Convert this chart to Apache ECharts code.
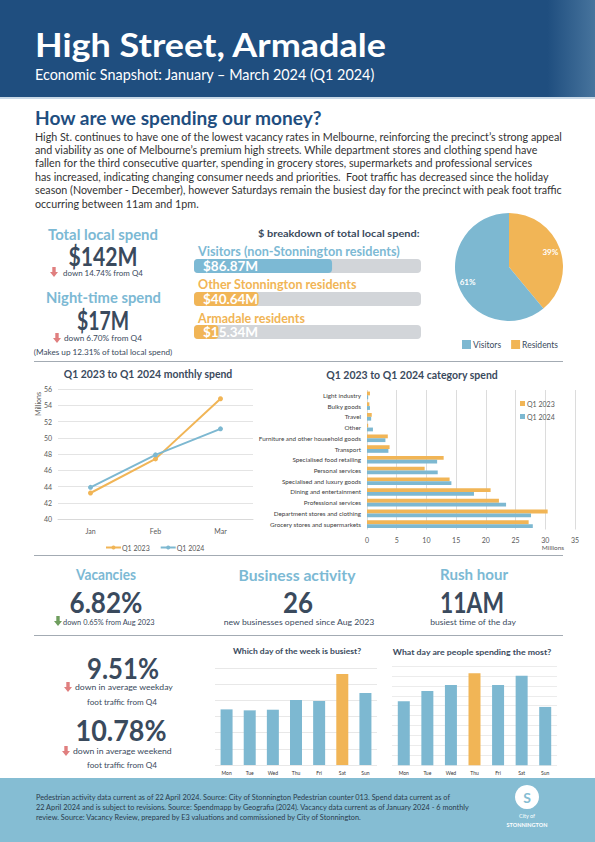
<!DOCTYPE html>
<html><head><meta charset="utf-8">
<script src="https://cdn.jsdelivr.net/npm/echarts@6/dist/echarts.min.js"></script>
<style>html,body{margin:0;padding:0;background:#fff}#c{width:595px;height:842px}</style>
</head><body><div id="c"></div>
<script>
// ---------- DATA ----------
const months = ['Jan', 'Feb', 'Mar'];
const spendQ1_2023 = [43.2, 47.4, 54.8];
const spendQ1_2024 = [43.9, 47.9, 51.1];
const monthAxis = { min: 40, max: 56, interval: 2 };

const categories = ['Light industry', 'Bulky goods', 'Travel', 'Other', 'Furniture and other household goods', 'Transport', 'Specialised food retailing', 'Personal services', 'Specialised and luxury goods', 'Dining and entertainment', 'Professional services', 'Department stores and clothing', 'Grocery stores and supermarkets'];
const catQ1_2023 = [0.5, 0.4, 0.8, 0.2, 3.5, 3.8, 12.9, 9.7, 13.9, 20.8, 22.2, 30.4, 27.2];
const catQ1_2024 = [0.2, 0.5, 0.7, 1.0, 3.1, 3.6, 11.8, 11.9, 14.2, 18.0, 23.4, 27.6, 27.9];
const catAxis = { min: 0, max: 35, interval: 5 };

const breakdownNames = ['Visitors (non-Stonnington residents)', 'Other Stonnington residents', 'Armadale residents'];
const breakdownValues = [86.87, 40.64, 15.34];

const pieNames = ['Residents', 'Visitors'];
const pieValues = [39, 61];

const days = ['Mon', 'Tue', 'Wed', 'Thu', 'Fri', 'Sat', 'Sun'];
const footTraffic = [3.44, 3.38, 3.42, 4.02, 3.96, 5.63, 4.45];
const daySpend = [6.44, 7.49, 8.09, 9.27, 8.09, 9.03, 5.88];

// ---------- STYLE ----------
const FONT = 'Lato, "Open Sans", sans-serif';
const DARK = '#3a4a5d';
const LBLUE = '#7cb9d4';
const ORANGE = '#f1b556';
const BLUE = '#7db8d1';
const NAVY = '#1f4e7f';
const RED = '#e07f7f';
const GREEN = '#6f9e5e';

const mctx = document.createElement('canvas').getContext('2d');
function T(text, x, y, size, o) {
  o = o || {};
  const weight = o.weight || 'normal';
  const align = o.align || 'left';
  let sx = 1;
  if (o.w) { mctx.font = weight + ' ' + size + 'px Lato'; sx = o.w / mctx.measureText(text).width; }
  if (o.sx) sx = o.sx;
  return { type: 'text', x: x, y: y, scaleX: sx, rotation: o.rot || 0, z: 10, silent: true,
    style: { text: text, fill: o.color || DARK, fontSize: size, fontWeight: weight, fontFamily: FONT,
      align: align, textAlign: align, verticalAlign: 'middle', textVerticalAlign: 'middle' } };
}
function arrow(cx, cy, color) {
  return { type: 'polygon', z: 10, silent: true, shape: { points: [[cx - 1.7, cy - 5], [cx + 1.7, cy - 5], [cx + 1.7, cy], [cx + 4, cy], [cx, cy + 5], [cx - 4, cy], [cx - 1.7, cy]] }, style: { fill: color } };
}
function rule(y) {
  return { type: 'line', z: 5, silent: true, shape: { x1: 34, y1: y, x2: 563, y2: y }, style: { stroke: '#a3abb3', lineWidth: 1 } };
}

const para = [
  'High St. continues to have one of the lowest vacancy rates in Melbourne, reinforcing the precinct\u2019s strong appeal',
  'and viability as one of Melbourne\u2019s premium high streets. While department stores and clothing spend have',
  'fallen for the third consecutive quarter, spending in grocery stores, supermarkets and professional services',
  'has increased, indicating changing consumer needs and priorities.  Foot traffic has decreased since the holiday',
  'season (November - December), however Saturdays remain the busiest day for the precinct with peak foot traffic',
  'occurring between 11am and 1pm.'
];
mctx.font = 'normal 11.5px Lato';
const paraScale = 528 / mctx.measureText(para[0]).width;

const footer = [
  'Pedestrian activity data current as of 22 April 2024. Source: City of Stonnington Pedestrian counter 013. Spend data current as of',
  '22 April 2024 and is subject to revisions. Source: Spendmapp by Geografia (2024). Vacancy data current as of January 2024 - 6 monthly',
  'review. Source: Vacancy Review, prepared by E3 valuations and commissioned by City of Stonnington.'
];
mctx.font = 'normal 7.5px Lato';
const footScale = 435 / mctx.measureText(footer[1]).width;

const graphics = [
  { type: 'rect', z: 1, silent: true, shape: { x: 0, y: 0, width: 595, height: 97 },
    style: { fill: { type: 'linear', x: 0, y: 0, x2: 1, y2: 0, colorStops: [{ offset: 0, color: NAVY }, { offset: 0.92, color: NAVY }, { offset: 1, color: '#47749d' }] } } },
  { type: 'rect', z: 1, silent: true, shape: { x: 0, y: 97, width: 595, height: 2 }, style: { fill: '#c9d9e7' } },
  T('High Street, Armadale', 35, 44, 32, { weight: 'bold', color: '#fff', w: 352 }),
  T('Economic Snapshot: January \u2013 March 2024 (Q1 2024)', 35, 74, 14.5, { color: '#fff', w: 340 }),
  T('How are we spending our money?', 35, 117, 19.5, { weight: 'bold', color: NAVY, w: 288 }),
  // left KPIs
  T('Total local spend', 103, 234, 16, { weight: 'bold', color: LBLUE, align: 'center', w: 110 }),
  T('$142M', 103, 256, 26, { weight: 'bold', align: 'center', w: 69 }),
  arrow(54, 272, RED),
  T('down 14.74% from Q4', 63, 273, 8.5, { w: 80 }),
  T('Night-time spend', 103.5, 297, 16, { weight: 'bold', color: LBLUE, align: 'center', w: 115 }),
  T('$17M', 103, 320, 26, { weight: 'bold', align: 'center', w: 52 }),
  arrow(57, 338, RED),
  T('down 6.70% from Q4', 64, 338, 8.5, { w: 78 }),
  T('(Makes up 12.31% of total local spend)', 103, 352, 8, { align: 'center', w: 139 }),
  // breakdown
  T('$ breakdown of total local spend:', 258, 233, 9.5, { weight: 'bold', w: 162 }),
  T(breakdownNames[0], 198, 252, 12.5, { weight: 'bold', color: LBLUE, w: 202 }),
  T(breakdownNames[1], 198, 285, 12.5, { weight: 'bold', color: ORANGE, w: 159 }),
  T(breakdownNames[2], 198, 318, 12.5, { weight: 'bold', color: ORANGE, w: 107 }),
  rule(361.5),
  // chart titles
  T('Q1 2023 to Q1 2024 monthly spend', 148, 373, 11, { weight: 'bold', align: 'center', w: 169 }),
  T('Millions', 38, 404, 7, { color: '#595959', align: 'center', rot: Math.PI / 2 }),
  T('Q1 2023 to Q1 2024 category spend', 412, 374, 11, { weight: 'bold', align: 'center', w: 172 }),
  T('Millions', 553, 547, 6.5, { color: '#595959', align: 'center' }),
  rule(555.5),
  // middle KPIs
  T('Vacancies', 106, 574, 16, { weight: 'bold', color: LBLUE, align: 'center', w: 60 }),
  T('6.82%', 106, 602, 28, { weight: 'bold', align: 'center', w: 73 }),
  arrow(58, 621, GREEN),
  T('down 0.65% from Aug 2023', 63, 622, 8.5, { w: 92 }),
  T('Business activity', 297, 574, 16, { weight: 'bold', color: LBLUE, align: 'center', w: 117 }),
  T('26', 298, 602, 28, { weight: 'bold', align: 'center', w: 30 }),
  T('new businesses opened since Aug 2023', 299, 622, 8.5, { align: 'center', w: 151 }),
  T('Rush hour', 474, 574, 16, { weight: 'bold', color: LBLUE, align: 'center', w: 68 }),
  T('11AM', 472, 602, 28, { weight: 'bold', align: 'center', w: 64 }),
  T('busiest time of the day', 473, 622, 8.5, { align: 'center', w: 86 }),
  rule(635.5),
  // bottom-left KPIs
  T('9.51%', 123, 668, 28, { weight: 'bold', align: 'center', w: 72 }),
  arrow(68, 687, RED),
  T('down in average weekday', 75, 687, 8.5, { w: 98 }),
  T('foot traffic from Q4', 122, 702, 8.5, { align: 'center', w: 70 }),
  T('10.78%', 121, 730, 28, { weight: 'bold', align: 'center', w: 91 }),
  arrow(66, 751, RED),
  T('down in average weekend', 73, 751, 8.5, { w: 99 }),
  T('foot traffic from Q4', 122, 765, 8.5, { align: 'center', w: 70 }),
  T('Which day of the week is busiest?', 297, 651, 8, { weight: 'bold', align: 'center', w: 129 }),
  T('What day are people spending the most?', 472, 652, 8, { weight: 'bold', align: 'center', w: 159 }),
  // footer
  { type: 'rect', z: 1, silent: true, shape: { x: 0, y: 778, width: 595, height: 64 }, style: { fill: '#85bdd3' } },
  { type: 'circle', z: 10, silent: true, shape: { cx: 527, cy: 797, r: 12 }, style: { fill: '#fff' } },
  T('S', 527, 797, 14, { weight: 'bold', color: '#85bdd3', align: 'center' }),
  T('City of', 527, 816, 5.5, { color: '#fff', align: 'center' }),
  T('STONNINGTON', 527, 825, 5.5, { weight: 'bold', color: '#fff', align: 'center' })
];
para.forEach((l, i) => graphics.push(T(l, 35, 136 + i * 13.4, 11.5, { color: '#333', sx: paraScale })));
footer.forEach((l, i) => graphics.push(T(l, 36, 797 + i * 10.2, 7.5, { color: '#2b3b4b', sx: footScale })));

function highlightMax(arr) {
  const m = Math.max.apply(null, arr);
  return arr.map(v => ({ value: v, itemStyle: { color: v === m ? ORANGE : BLUE } }));
}
const axisTxt = { fontFamily: FONT, color: '#595959' };

const option = {
  animation: false,
  textStyle: { fontFamily: FONT },
  graphic: { elements: graphics },
  legend: [
    { data: ['Visitors', 'Residents'], left: 457, top: 335, icon: 'rect', itemWidth: 9, itemHeight: 9, itemGap: 10,
      textStyle: { fontSize: 8.5, color: DARK, fontFamily: FONT, padding: [0, 0, 0, -3] } },
    { data: ['Q1 2023', 'Q1 2024'], left: 100, top: 539, itemWidth: 15, itemHeight: 5, itemGap: 10,
      textStyle: { fontSize: 7, color: '#595959', fontFamily: FONT, padding: [0, 0, 0, -4] } },
    { data: ['cat2023', 'cat2024'], orient: 'vertical', left: 515, top: 395, icon: 'rect', itemWidth: 5, itemHeight: 5, itemGap: 6,
      formatter: n => n === 'cat2023' ? 'Q1 2023' : 'Q1 2024', textStyle: { fontSize: 7, color: '#595959', fontFamily: FONT, padding: [0, 0, 0, -3] } }
  ],
  grid: [
    { left: 194, top: 249.5, width: 227, height: 99 },
    { left: 58, top: 389, width: 195, height: 130 },
    { left: 367, top: 390, width: 208, height: 139.5 },
    { left: 215, top: 668, width: 162, height: 97 },
    { left: 392, top: 666, width: 165, height: 99.3 }
  ],
  xAxis: [
    { gridIndex: 0, type: 'value', min: 0, max: 142.85, show: false },
    { gridIndex: 1, type: 'category', data: months, axisTick: { show: false }, axisLine: { lineStyle: { color: '#d9d9d9' } },
      axisLabel: Object.assign({ fontSize: 7, margin: 8 }, axisTxt) },
    { gridIndex: 2, type: 'value', min: catAxis.min, max: catAxis.max, interval: catAxis.interval,
      axisLabel: Object.assign({ fontSize: 7, margin: 7 }, axisTxt), splitLine: { lineStyle: { color: '#dcdcdc' } }, axisLine: { show: false } },
    { gridIndex: 3, type: 'category', data: days, axisTick: { show: false }, axisLine: { show: false },
      axisLabel: { fontSize: 5, margin: 5, color: '#333', fontFamily: FONT } },
    { gridIndex: 4, type: 'category', data: days, axisTick: { show: false }, axisLine: { show: false },
      axisLabel: { fontSize: 5, margin: 5, color: '#333', fontFamily: FONT } }
  ],
  yAxis: [
    { gridIndex: 0, type: 'category', data: breakdownNames, inverse: true, show: false },
    { gridIndex: 1, type: 'value', min: monthAxis.min, max: monthAxis.max, interval: monthAxis.interval,
      axisLabel: Object.assign({ fontSize: 7, margin: 6 }, axisTxt), splitLine: { lineStyle: { color: '#e4e4e4' } } },
    { gridIndex: 2, type: 'category', data: categories, inverse: true, axisTick: { show: false }, axisLine: { show: false },
      axisLabel: { fontSize: 6.3, margin: 6, color: '#404040', fontFamily: FONT } },
    { gridIndex: 3, type: 'value', min: 0, max: 6, interval: 1, axisLabel: { show: false }, splitLine: { lineStyle: { color: '#e8e8e8' } } },
    { gridIndex: 4, type: 'value', min: 0, max: 10, interval: 1, axisLabel: { show: false }, splitLine: { lineStyle: { color: '#ececec' } } }
  ],
  series: [
    { type: 'bar', xAxisIndex: 0, yAxisIndex: 0, barWidth: 14, silent: true,
      data: breakdownValues.map((v, i) => ({ value: v, itemStyle: { color: i === 0 ? LBLUE : ORANGE } })),
      itemStyle: { borderRadius: 4 }, showBackground: true, backgroundStyle: { color: '#d2d5d9', borderRadius: 4 },
      label: { show: true, position: 'insideLeft', distance: 9, color: '#fff', fontWeight: 'bold', fontSize: 13.5, fontFamily: FONT,
        formatter: p => '$' + p.value.toFixed(2) + 'M' } },
    { type: 'pie', name: 'share', center: [509, 267], radius: 54, startAngle: 90, silent: true,
      data: pieNames.map((n, i) => ({ name: n, value: pieValues[i], itemStyle: { color: n === 'Visitors' ? BLUE : ORANGE } })),
      label: { show: false }, labelLine: { show: false } },
    { type: 'pie', name: 'shareLabels', center: [509, 267], radius: [28, 54], startAngle: 90, silent: true,
      data: pieNames.map((n, i) => ({ name: n, value: pieValues[i], itemStyle: { color: 'rgba(0,0,0,0)' } })),
      label: { show: true, position: 'inside', color: '#fff', fontWeight: 'bold', fontSize: 8, fontFamily: FONT, formatter: p => p.value + '%' },
      labelLine: { show: false } },
    { type: 'line', name: 'Q1 2023', xAxisIndex: 1, yAxisIndex: 1, data: spendQ1_2023, color: ORANGE,
      lineStyle: { width: 2 }, symbol: 'circle', symbolSize: 5 },
    { type: 'line', name: 'Q1 2024', xAxisIndex: 1, yAxisIndex: 1, data: spendQ1_2024, color: BLUE,
      lineStyle: { width: 2 }, symbol: 'circle', symbolSize: 5 },
    { type: 'bar', name: 'cat2023', xAxisIndex: 2, yAxisIndex: 2, data: catQ1_2023, color: ORANGE, barWidth: 3.8, barGap: '0%' },
    { type: 'bar', name: 'cat2024', xAxisIndex: 2, yAxisIndex: 2, data: catQ1_2024, color: BLUE, barWidth: 3.8, barGap: '0%' },
    { type: 'bar', name: 'foot', xAxisIndex: 3, yAxisIndex: 3, data: highlightMax(footTraffic), barWidth: 12 },
    { type: 'bar', name: 'spend', xAxisIndex: 4, yAxisIndex: 4, data: highlightMax(daySpend), barWidth: 12 }
  ]
};
const chart = echarts.init(document.getElementById('c'), null, { renderer: 'svg', width: 595, height: 842 });
chart.setOption(option);
</script>
</body></html>
